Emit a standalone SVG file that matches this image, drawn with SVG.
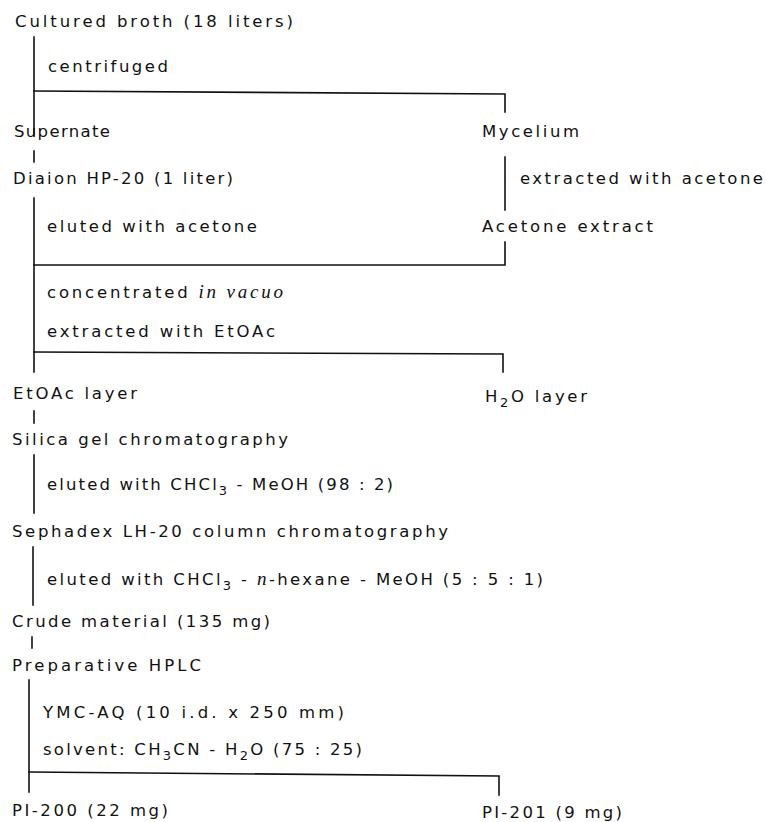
<svg xmlns="http://www.w3.org/2000/svg" width="766" height="822" viewBox="0 0 766 822">
<style>
text { font-family: "DejaVu Sans", "Noto Sans", sans-serif; font-size: 16.5px; fill: #111; }
.it { font-family: "Liberation Serif", serif; font-style: italic; font-size: 19px; }
.sub { font-size: 13px; }
.c { stroke: #111; stroke-width: 1.6; fill: none; stroke-linecap: square; }
</style>
<rect width="766" height="822" fill="#fff"/>
<g id="connectors">
  <path class="c" d="M34 37 V135"/>
  <path class="c" d="M34 91 L505 94 V112"/>
  <path class="c" d="M34 151 V162"/>
  <path class="c" d="M505 157 V210"/>
  <path class="c" d="M34 198 V372"/>
  <path class="c" d="M505 242 V265 H34"/>
  <path class="c" d="M34 352 L503 354 V372"/>
  <path class="c" d="M34 411 V423"/>
  <path class="c" d="M34 455 V513"/>
  <path class="c" d="M33 547 V605"/>
  <path class="c" d="M32 637 V648"/>
  <path class="c" d="M29 680 V792"/>
  <path class="c" d="M29 772 L499 776 V795"/>
</g>
<g id="steps">
  <text x="48" y="72" textLength="120" lengthAdjust="spacing">centrifuged</text>
  <text x="520" y="184" textLength="243" lengthAdjust="spacing">extracted with acetone</text>
  <text x="47" y="232" textLength="210" lengthAdjust="spacing">eluted with acetone</text>
  <text x="47" y="298" textLength="236" lengthAdjust="spacing">concentrated <tspan class="it">in vacuo</tspan></text>
  <text x="47" y="337" textLength="228" lengthAdjust="spacing">extracted with EtOAc</text>
  <text x="47" y="490" textLength="346" lengthAdjust="spacing">eluted with CHCl<tspan class="sub" dy="5">3</tspan><tspan dy="-5"> - MeOH (98 : 2)</tspan></text>
  <text x="47" y="585" textLength="496" lengthAdjust="spacing">eluted with CHCl<tspan class="sub" dy="5">3</tspan><tspan dy="-5"> - </tspan><tspan class="it">n</tspan>-hexane - MeOH (5 : 5 : 1)</text>
  <text x="43" y="718" textLength="301" lengthAdjust="spacing">YMC-AQ (10  i.d. x 250 mm)</text>
  <text x="43" y="755" textLength="319" lengthAdjust="spacing">solvent: CH<tspan class="sub" dy="5">3</tspan><tspan dy="-5">CN - H</tspan><tspan class="sub" dy="5">2</tspan><tspan dy="-5">O (75 : 25)</tspan></text>
</g>
<g id="broth"><text x="15" y="27" textLength="278" lengthAdjust="spacing">Cultured broth (18 liters)</text></g>
<g id="supernate"><text x="14" y="137" textLength="96" lengthAdjust="spacing">Supernate</text></g>
<g id="mycelium"><text x="482" y="137" textLength="97" lengthAdjust="spacing">Mycelium</text></g>
<g id="diaion"><text x="13" y="184" textLength="220" lengthAdjust="spacing">Diaion HP-20 (1 liter)</text></g>
<g id="acetone-extract"><text x="482" y="232" textLength="171" lengthAdjust="spacing">Acetone extract</text></g>
<g id="etoac-layer"><text x="13" y="399" textLength="124" lengthAdjust="spacing">EtOAc layer</text></g>
<g id="h2o-layer"><text x="485" y="402" textLength="102" lengthAdjust="spacing">H<tspan class="sub" dy="5">2</tspan><tspan dy="-5">O layer</tspan></text></g>
<g id="silica"><text x="12" y="445" textLength="276" lengthAdjust="spacing">Silica gel chromatography</text></g>
<g id="sephadex"><text x="12" y="537" textLength="436" lengthAdjust="spacing">Sephadex LH-20 column chromatography</text></g>
<g id="crude"><text x="12" y="627" textLength="258" lengthAdjust="spacing">Crude material (135 mg)</text></g>
<g id="hplc"><text x="12" y="671" textLength="189" lengthAdjust="spacing">Preparative HPLC</text></g>
<g id="pi200"><text x="12" y="816" textLength="156" lengthAdjust="spacing">PI-200 (22 mg)</text></g>
<g id="pi201"><text x="482" y="818" textLength="140" lengthAdjust="spacing">PI-201 (9 mg)</text></g>
</svg>
